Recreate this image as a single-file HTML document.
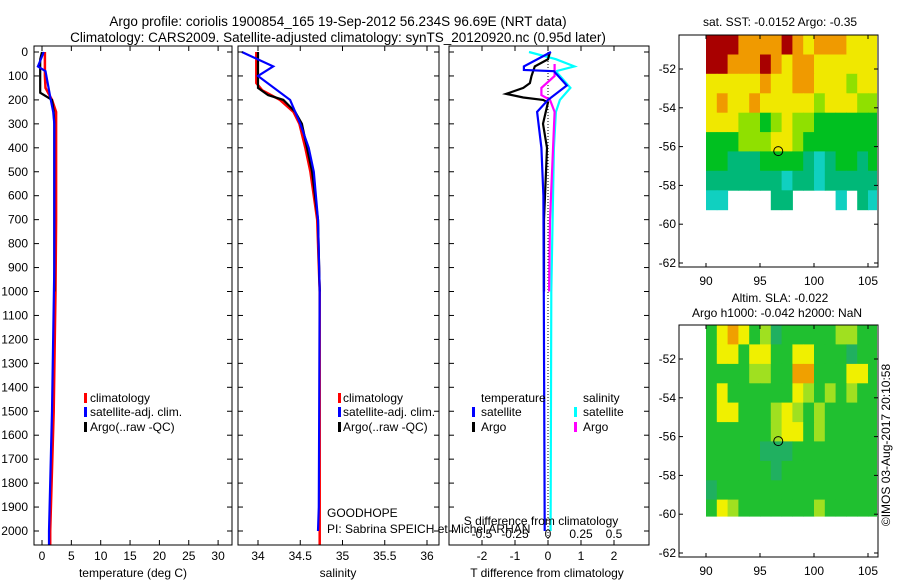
<!DOCTYPE html>
<html><head><meta charset="utf-8"><style>
body{margin:0;background:#fff}
svg{display:block;font-family:"Liberation Sans",sans-serif}
</style></head><body>
<svg id="c" width="900" height="580" xmlns="http://www.w3.org/2000/svg">
<text x="338" y="26" font-size="13.5" text-anchor="middle">Argo profile: coriolis 1900854_165 19-Sep-2012 56.234S 96.69E (NRT data)</text>
<text x="338" y="42" font-size="13.5" text-anchor="middle">Climatology: CARS2009. Satellite-adjusted climatology: synTS_20120920.nc (0.95d later)</text>
</svg>
<script>
// ---- data ----
const depthTicks=[0,100,200,300,400,500,600,700,800,900,1000,1100,1200,1300,1400,1500,1600,1700,1800,1900,2000];
const tempTicks=[0,5,10,15,20,25,30];
const salTicks=[34,34.5,35,35.5,36];
const tdiffTicks=[-2,-1,0,1,2];
const sdiffTicks=[-0.5,-0.25,0,0.25,0.5];
const tClimDepth=[0,100,150,200,250,300,700,1000,1500,2000,2060];
const tClimVal=[0.5,0.5,0.6,1.7,2.4,2.4,2.4,2.3,2.0,1.4,1.4];
const tSatDepth=[0,60,80,200,250,300,900,1500,2000,2060];
const tSatVal=[0.3,-0.7,0.6,1.5,1.9,2.1,2.1,1.7,1.2,1.2];
const tArgoDepth=[0,30,170,200,250,300,1000];
const tArgoVal=[0.0,-0.3,-0.3,1.7,2.0,2.1,2.1];
const sClimDepth=[0,130,160,200,250,300,400,500,700,1000,2060];
const sClimVal=[33.98,33.98,34.05,34.26,34.42,34.49,34.56,34.62,34.7,34.73,34.73];
const sSatDepth=[0,60,100,200,300,400,500,700,1000,1900,2000];
const sSatVal=[33.81,34.18,34.0,34.38,34.5,34.6,34.66,34.71,34.73,34.72,34.71];
const sArgoDepth=[0,150,180,200,250,300,500,700,1000];
const sArgoVal=[34.0,34.0,34.12,34.3,34.44,34.52,34.64,34.71,34.73];
const dTArgoDepth=[0,30,60,100,130,150,175,190,200,210,300,400,500,700,1000];
const dTArgoVal=[0.06,0,-0.4,-0.5,-0.55,-0.75,-1.27,-0.75,-0.15,0,-0.15,-0.03,-0.06,-0.12,-0.12];
const dTSatDepth=[0,60,75,80,140,200,250,400,600,900,2000];
const dTSatVal=[0.09,-0.73,-0.73,0.18,0.57,0,-0.33,-0.2,-0.14,-0.13,-0.1];
const dSSatDepth=[0,30,60,80,150,200,250,400,1000,2000];
const dSSatVal=[-0.144,0.06,0.2,0.06,0.17,0.09,0.06,0.045,0.025,0.02];
const dSArgoDepth=[50,100,150,180,200,250,700,1000];
const dSArgoVal=[0.05,0.05,-0.05,-0.05,0.015,0.05,0.015,0.008];
const mapLonTicks=[90,95,100,105];
const mapLatTicks=[-52,-54,-56,-58,-60,-62];
const sstGrid=[
[6,6,6,5,5,5,5,6,5,4,5,5,5,4,4,4],
[6,6,5,5,5,6,5,4,5,5,4,4,4,4,4,4],
[4,4,4,4,4,5,4,4,5,5,4,4,4,3,4,4],
[4,5,4,4,5,4,4,4,4,4,3,4,4,4,3,3],
[4,4,4,3,3,2,3,4,3,3,2,2,2,2,2,2],
[2,2,2,3,3,3,4,4,3,2,2,2,2,2,2,2],
[2,2,1,1,1,2,2,2,2,1,0,1,2,2,1,2],
[1,1,1,1,1,1,1,0,1,1,0,1,1,1,1,1],
[0,0,-1,-1,-1,-1,1,1,-1,-1,-1,-1,0,-1,1,0]];
const slaGrid=[
[2,4,5,4,2,3,1,2,2,2,2,2,3,3,2,2],
[2,4,4,2,4,4,2,2,4,4,2,2,2,1,2,2],
[2,2,2,2,3,3,2,2,5,5,2,2,2,4,4,2],
[2,4,2,2,2,2,2,2,4,3,2,3,2,3,2,2],
[2,4,4,2,2,2,3,4,3,2,3,2,2,2,2,2],
[2,2,2,2,2,2,3,4,4,2,3,2,2,2,2,2],
[2,2,2,2,2,1,1,1,2,2,2,2,2,2,2,2],
[2,2,2,2,2,2,1,2,2,2,2,2,2,2,2,2],
[1,2,2,2,2,2,2,2,2,2,2,2,2,2,2,2],
[2,4,3,2,2,2,2,2,2,2,3,2,2,2,2,2]];
const argoLon=96.69, argoLat=-56.234;
// ---- helpers ----
const svg=document.getElementById('c');const NS='http://www.w3.org/2000/svg';
function mk(t,a,p){const e=document.createElementNS(NS,t);for(const k in a)e.setAttribute(k,a[k]);(p||svg).appendChild(e);return e;}
const Y=d=>52+d*0.2395;
const TOP=46,BOT=545;
function panel(x0,x1,name){
 const g=mk('g',{});
 
 
 return g;}
function frame(g,x0,x1,y0,y1){
 const r=mk('rect',{x:x0,y:y0,width:x1-x0,height:y1-y0,fill:'none',stroke:'#000','stroke-width':1},g);
 
 }
function line(g,depths,vals,X,color,w,name){
 const pts=depths.map((d,i)=>X(vals[i]).toFixed(1)+','+Y(d).toFixed(1)).join(' ');
 const p=mk('polyline',{points:pts,fill:'none',stroke:color,'stroke-width':w},g);
 
 }
function txt(g,x,y,s,anchor,size){const t=mk('text',{x:x,y:y,'font-size':size||12,'text-anchor':anchor||'start'},g);t.textContent=s;
 
 return t;}
function depthAxis(g,x0,x1,labels){
 depthTicks.forEach(d=>{const y=Y(d);
  mk('line',{x1:x0,y1:y,x2:x0+5,y2:y,stroke:'#000'},g);mk('line',{x1:x1,y1:y,x2:x1-5,y2:y,stroke:'#000'},g);
  if(labels){const t=txt(g,28,y+4,String(d),'end',12);}});}
function xAxis(g,ticks,X,fmt,y){
 ticks.forEach(v=>{const x=X(v);
  mk('line',{x1:x,y1:BOT,x2:x,y2:BOT-5,stroke:'#000'},g);mk('line',{x1:x,y1:TOP,x2:x,y2:TOP+5,stroke:'#000'},g);
  const t=txt(g,x,y,fmt(v),'middle',12);});}
function legendSwatch(g,x,y,c){mk('rect',{x:x,y:y-9,width:3,height:10,fill:c},g);}
// ---- panel 1: temperature ----
{const X=v=>42+v*5.87;const g=panel(34,232,'temperature-panel');
 line(g,tClimDepth,tClimVal,X,'#f00',2.5,'temp-climatology-line');
 line(g,tArgoDepth,tArgoVal,X,'#000',2.2,'temp-argo-line');
 line(g,tSatDepth,tSatVal,X,'#00f',2.2,'temp-satellite-line');
 frame(g,34,232,TOP,BOT);depthAxis(g,34,232,true);
 xAxis(g,tempTicks,X,v=>String(v),560);
 const t=txt(g,133,577,'temperature (deg C)','middle',12);
 legendSwatch(g,84,402,'#f00');txt(g,90,402,'climatology');
 legendSwatch(g,84,416,'#00f');txt(g,90,416,'satellite-adj. clim.');
 legendSwatch(g,84,431,'#000');txt(g,90,431,'Argo(..raw -QC)');}
// ---- panel 2: salinity ----
{const X=v=>258+(v-34)*84.5;const g=panel(238,439,'salinity-panel');
 line(g,sClimDepth,sClimVal,X,'#f00',2.5,'sal-climatology-line');
 line(g,sArgoDepth,sArgoVal,X,'#000',2.2,'sal-argo-line');
 line(g,sSatDepth,sSatVal,X,'#00f',2.2,'sal-satellite-line');
 frame(g,238,439,TOP,BOT);depthAxis(g,238,439,false);
 xAxis(g,salTicks,X,v=>String(v),560);
 const t=txt(g,338,577,'salinity','middle',12);
 legendSwatch(g,338,402,'#f00');txt(g,343,402,'climatology');
 legendSwatch(g,338,416,'#00f');txt(g,343,416,'satellite-adj. clim.');
 legendSwatch(g,338,431,'#000');txt(g,343,431,'Argo(..raw -QC)');
 txt(g,327,517,'GOODHOPE');txt(g,327,533,'PI: Sabrina SPEICH et Michel ARHAN');}
// ---- panel 3: differences ----
{const XT=v=>548+v*33, XS=v=>548+v*132;const g=panel(449,649,'difference-panel');
 mk('line',{x1:548,y1:TOP,x2:548,y2:BOT,stroke:'#000','stroke-dasharray':'1,2'},g);
 line(g,dSSatDepth,dSSatVal,XS,'#0ff',2.2,'sdiff-satellite-line');
 line(g,dSArgoDepth,dSArgoVal,XS,'#f0f',2.2,'sdiff-argo-line');
 line(g,dTArgoDepth,dTArgoVal,XT,'#000',2.2,'tdiff-argo-line');
 line(g,dTSatDepth,dTSatVal,XT,'#00f',2.2,'tdiff-satellite-line');
 frame(g,449,649,TOP,BOT);depthAxis(g,449,649,false);
 xAxis(g,tdiffTicks,XT,v=>String(v),560);
 sdiffTicks.forEach(v=>{const t=txt(g,XS(v),538,String(v),'middle',12);});
 txt(g,541,525,'S difference from climatology','middle',12);
 const t=txt(g,547,577,'T difference from climatology','middle',12);
 txt(g,481,402,'temperature');txt(g,583,402,'salinity');
 legendSwatch(g,472,416,'#00f');txt(g,481,416,'satellite');
 legendSwatch(g,472,431,'#000');txt(g,481,431,'Argo');
 legendSwatch(g,574,416,'#0ff');txt(g,583,416,'satellite');
 legendSwatch(g,574,431,'#f0f');txt(g,583,431,'Argo');}
// ---- maps ----
const sstCols=['#10d0c0','#00b878','#00c020','#90e000','#f0e800','#f09a00','#a80000'];
const slaCols=['#20b0c0','#20b060','#20c030','#a0e020','#f0f000','#f0a000','#c00000'];
function map(x0,x1,top,bot,lat52y,grid,cols,name,topLat){
 const g=panel(x0,x1,name);
 const LX=l=>706+(l-90)*10.8, LY=la=>lat52y+(-52-la)*19.4;
 grid.forEach((row,i)=>row.forEach((v,j)=>{if(v<0)return;
  const la0=topLat-i, la1=Math.max(topLat-i-1,name==='sla-map'?-60.1:-60);
  const r=mk('rect',{x:LX(90+j).toFixed(1),y:Math.max(top,LY(la0)).toFixed(1),width:(10.8+0.5).toFixed(1),height:(LY(la1)-Math.max(top,LY(la0))+0.5).toFixed(1),fill:cols[v]},g);
  
  }));
 mk('rect',{x:x1-1,y:top,width:20,height:bot-top,fill:'#fff'},g);
 frame(g,x0,x1,top,bot);
 mapLatTicks.forEach(la=>{const y=LY(la);mk('line',{x1:x0,y1:y,x2:x0+4,y2:y,stroke:'#000'},g);mk('line',{x1:x1,y1:y,x2:x1-4,y2:y,stroke:'#000'},g);
  const t=txt(g,x0-3,y+4,String(la),'end',12);});
 mapLonTicks.forEach(lo=>{const x=LX(lo);mk('line',{x1:x,y1:bot,x2:x,y2:bot-4,stroke:'#000'},g);mk('line',{x1:x,y1:top,x2:x,y2:top+4,stroke:'#000'},g);
  const t=txt(g,x,bot+18,String(lo),'middle',12);});
 const c=mk('circle',{cx:LX(argoLon),cy:LY(argoLat),r:4.5,fill:'none',stroke:'#000','stroke-width':1},g);
 
 }
map(679,878,35,267,69,sstGrid,sstCols,'sst-map',-50.25);
map(679,878,325,557,359,slaGrid,slaCols,'sla-map',-50.25);
txt(svg,780,26,'sat. SST: -0.0152 Argo: -0.35','middle',12);
txt(svg,780,302,'Altim. SLA: -0.022','middle',12);
txt(svg,777,317,'Argo h1000: -0.042 h2000: NaN','middle',12);
const cr=txt(svg,0,0,'©IMOS 03-Aug-2017 20:10:58','middle',12);
cr.setAttribute('transform','translate(890,445) rotate(-90)');

</script>
</body></html>
